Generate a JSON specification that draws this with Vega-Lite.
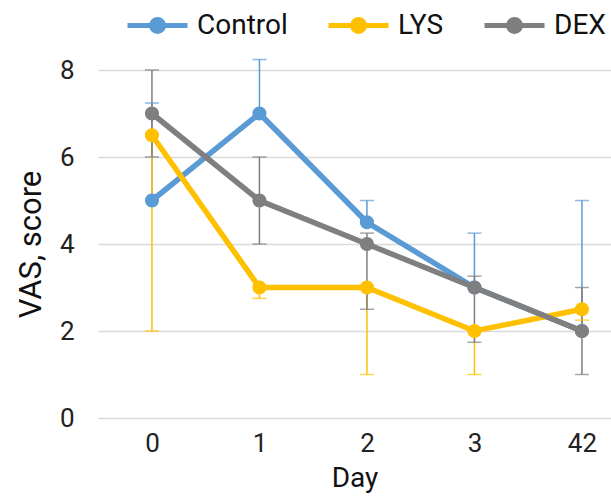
{
  "$schema": "https://vega.github.io/schema/vega-lite/v6.json",
  "width": 513,
  "height": 348,
  "autosize": {"type": "none"},
  "padding": {"left": 98, "top": 70, "right": 0, "bottom": 79},
  "background": "white",
  "config": {
    "font": "Roboto",
    "view": {"stroke": null},
    "axis": {"labelFont": "Roboto", "titleFont": "Roboto", "labelColor": "#222", "titleColor": "#111", "titleFontWeight": "normal"}
  },
  "data": {"values": [
    {"day": "0", "group": "Control", "value": 5, "lo": 5, "hi": 7.24},
    {"day": "1", "group": "Control", "value": 7, "lo": 7, "hi": 8.24},
    {"day": "2", "group": "Control", "value": 4.5, "lo": 4.5, "hi": 5.0},
    {"day": "3", "group": "Control", "value": 3, "lo": 3, "hi": 4.25},
    {"day": "42", "group": "Control", "value": 2, "lo": 2, "hi": 5.0},
    {"day": "0", "group": "LYS", "value": 6.5, "lo": 2, "hi": 6.5},
    {"day": "1", "group": "LYS", "value": 3, "lo": 2.75, "hi": 3},
    {"day": "2", "group": "LYS", "value": 3, "lo": 1, "hi": 3},
    {"day": "3", "group": "LYS", "value": 2, "lo": 1, "hi": 2},
    {"day": "42", "group": "LYS", "value": 2.5, "lo": 2.25, "hi": 2.5},
    {"day": "0", "group": "DEX", "value": 7, "lo": 6, "hi": 8},
    {"day": "1", "group": "DEX", "value": 5, "lo": 4, "hi": 6},
    {"day": "2", "group": "DEX", "value": 4, "lo": 2.5, "hi": 4.25},
    {"day": "3", "group": "DEX", "value": 3, "lo": 1.74, "hi": 3.26},
    {"day": "42", "group": "DEX", "value": 2, "lo": 1, "hi": 3}
  ]},
  "encoding": {
    "x": {"field": "day", "type": "ordinal", "sort": ["0", "1", "2", "3", "42"],
      "scale": {"type": "point", "padding": 0.386, "align": 0.65},
      "axis": {"title": "Day", "labelAngle": 0, "labelFontSize": 26, "titleFontSize": 28, "ticks": false, "domain": false, "labelPadding": 12, "titlePadding": 8}},
    "color": {"field": "group", "type": "nominal",
      "scale": {"domain": ["Control", "LYS", "DEX"], "range": ["#5B9BD5", "#FFC000", "#7F7F7F"]},
      "legend": {"orient": "none", "legendX": 27, "legendY": -77, "direction": "horizontal", "title": null,
        "gridAlign": "none",
        "labelFontSize": 28, "labelFont": "Roboto", "labelColor": "#111",
        "symbolType": "M-1,0H1M-0.2,0a0.2,0.2 0 1,0 0.4,0a0.2,0.2 0 1,0 -0.4,0",
        "symbolSize": 3600, "symbolStrokeWidth": 5, "columnPadding": 30, "labelOffset": 7,
        "encode": {"symbols": {"update": {"fill": {"scale": "color", "field": "value"}, "stroke": {"scale": "color", "field": "value"}, "opacity": {"value": 1}}}}}}
  },
  "layer": [
    {"mark": {"type": "rule", "strokeWidth": 1.5},
      "encoding": {"y": {"field": "lo", "type": "quantitative"}, "y2": {"field": "hi"}}},
    {"transform": [{"filter": "datum.hi > datum.value"}],
      "mark": {"type": "tick", "orient": "horizontal", "size": 14, "thickness": 1.5},
      "encoding": {"y": {"field": "hi", "type": "quantitative"}}},
    {"transform": [{"filter": "datum.lo < datum.value"}],
      "mark": {"type": "tick", "orient": "horizontal", "size": 14, "thickness": 1.5},
      "encoding": {"y": {"field": "lo", "type": "quantitative"}}},
    {"mark": {"type": "line", "strokeWidth": 5.5, "clip": false},
      "encoding": {
        "y": {"field": "value", "type": "quantitative",
          "scale": {"domain": [0, 8]},
          "axis": {"title": "VAS, score", "values": [0, 2, 4, 6, 8], "labelFontSize": 26, "titleFontSize": 31, "domain": false, "ticks": false, "labelPadding": 24, "titlePadding": 12, "gridColor": "#d9d9d9", "gridWidth": 1.5}},
        "detail": {"field": "group"},
        "order": {"field": "day", "type": "ordinal"}}},
    {"mark": {"type": "circle", "size": 200, "opacity": 1},
      "encoding": {"y": {"field": "value", "type": "quantitative"}}}
  ]
}
